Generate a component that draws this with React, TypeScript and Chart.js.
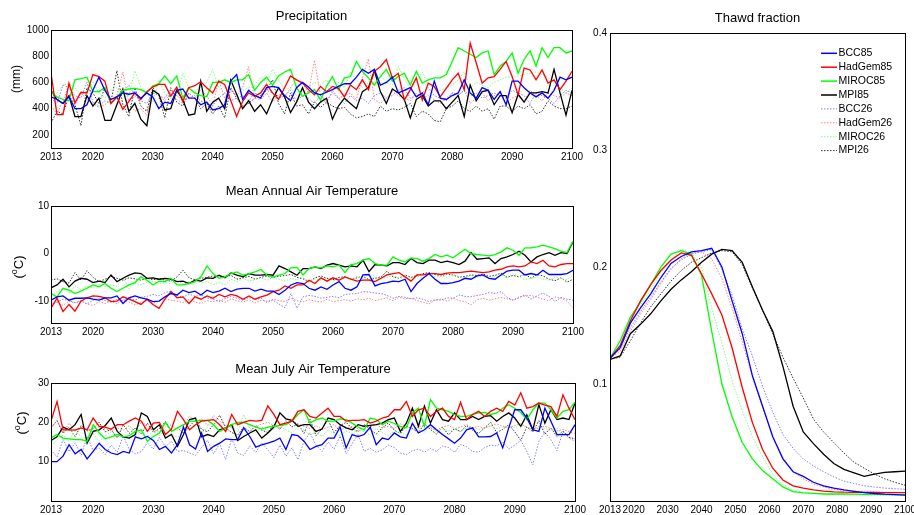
import React, { useEffect, useRef } from "react";
import { Chart, registerables } from "chart.js";

Chart.register(...registerables);

const FONT = "'Liberation Sans', Arial, Helvetica, sans-serif";
Chart.defaults.font.family = FONT;
Chart.defaults.font.size = 10;
Chart.defaults.color = "#000";

// ---------- categories / ticks ----------
const YEARS = Array.from({ length: 88 }, (_, i) => 2013 + i);
const THAW_YEARS = [2013, 2016, 2019, 2022, 2025, 2028, 2031, 2034, 2037, 2040, 2043, 2046, 2049, 2052, 2055, 2058, 2061, 2064, 2067, 2070, 2073, 2076, 2079, 2082, 2085, 2088, 2091, 2094, 2097, 2100];
const X_TICKS = [2013, 2020, 2030, 2040, 2050, 2060, 2070, 2080, 2090, 2100];
const PRECIP_TICKS = [200, 400, 600, 800, 1000];
const ANNUAL_TICKS = [-10, 0, 10];
const JULY_TICKS = [10, 20, 30];
const THAW_TICKS = [0.1, 0.2, 0.3, 0.4];
const SERIES_NAMES = ["BCC85", "HadGem85", "MIROC85", "MPI85", "BCC26", "HadGem26", "MIROC26", "MPI26"];

// ---------- Precipitation (mm) ----------
const precipBCC85 = [490, 470, 440, 490, 400, 400, 430, 540, 640, 540, 470, 490, 520, 510, 520, 480, 520, 490, 400, 450, 440, 540, 550, 480, 480, 430, 450, 390, 400, 430, 610, 660, 470, 540, 500, 480, 560, 570, 560, 500, 460, 560, 600, 565, 520, 505, 525, 545, 570, 590, 590, 640, 700, 670, 700, 580, 600, 640, 520, 540, 560, 490, 520, 430, 610, 480, 470, 500, 520, 620, 520, 480, 560, 540, 470, 530, 430, 610, 610, 560, 520, 490, 520, 480, 540, 640, 620, 640];
const precipHadGem85 = [672, 355, 355, 595, 445, 525, 520, 660, 645, 610, 440, 490, 395, 455, 520, 470, 530, 565, 585, 585, 495, 565, 455, 560, 575, 605, 560, 520, 610, 585, 465, 340, 455, 520, 495, 520, 585, 520, 470, 560, 650, 620, 595, 545, 505, 570, 530, 570, 555, 490, 580, 545, 620, 545, 685, 720, 775, 635, 670, 465, 545, 635, 465, 595, 570, 490, 555, 620, 670, 545, 900, 750, 595, 635, 645, 700, 760, 645, 505, 710, 695, 620, 695, 595, 620, 545, 610, 685];
const precipMIROC85 = [530, 490, 470, 460, 620, 630, 640, 530, 530, 560, 440, 490, 540, 550, 555, 545, 520, 575, 590, 650, 590, 650, 480, 560, 520, 500, 490, 600, 600, 620, 600, 620, 620, 660, 540, 600, 640, 580, 650, 680, 700, 560, 495, 520, 545, 465, 570, 645, 545, 635, 645, 760, 685, 635, 580, 645, 700, 610, 645, 670, 580, 685, 595, 620, 635, 635, 660, 760, 865, 840, 815, 790, 825, 840, 660, 725, 760, 825, 670, 775, 840, 725, 865, 790, 865, 865, 825, 840];
const precipMPI85 = [540, 470, 440, 500, 340, 340, 500, 420, 480, 310, 310, 430, 550, 380, 440, 320, 270, 540, 510, 390, 400, 540, 470, 350, 360, 610, 380, 450, 480, 400, 620, 510, 400, 460, 380, 430, 360, 470, 560, 490, 370, 450, 560, 450, 400, 450, 480, 320, 420, 480, 440, 400, 530, 560, 690, 530, 440, 550, 520, 470, 330, 470, 500, 420, 460, 460, 400, 450, 500, 340, 580, 460, 530, 540, 430, 500, 500, 370, 510, 450, 520, 520, 530, 520, 700, 520, 350, 540];
const precipBCC26 = [480, 440, 580, 560, 500, 480, 600, 450, 420, 460, 440, 480, 520, 580, 500, 460, 440, 520, 500, 480, 540, 500, 460, 480, 500, 460, 440, 420, 480, 520, 460, 480, 500, 460, 520, 500, 540, 520, 480, 500, 540, 460, 500, 480, 440, 500, 460, 520, 480, 440, 500, 460, 480, 440, 500, 520, 480, 500, 540, 560, 480, 500, 520, 560, 500, 480, 460, 520, 500, 540, 500, 520, 480, 500, 520, 500, 480, 540, 520, 500, 440, 520, 500, 480, 440, 500, 540, 520];
const precipHadGem26 = [420, 360, 460, 580, 430, 520, 470, 440, 410, 430, 470, 500, 680, 450, 380, 400, 350, 540, 500, 460, 520, 470, 440, 520, 480, 540, 500, 420, 620, 480, 540, 500, 560, 720, 480, 470, 520, 450, 510, 480, 560, 620, 600, 520, 770, 500, 440, 540, 480, 500, 520, 470, 640, 780, 470, 440, 480, 530, 500, 480, 460, 520, 480, 500, 470, 440, 480, 520, 500, 540, 440, 480, 520, 460, 500, 520, 440, 480, 500, 450, 540, 500, 460, 520, 500, 480, 520, 500];
const precipMIROC26 = [500, 520, 580, 590, 560, 500, 540, 600, 520, 480, 540, 560, 520, 500, 690, 560, 520, 450, 620, 520, 480, 500, 670, 560, 520, 580, 600, 700, 560, 520, 560, 600, 540, 560, 580, 640, 600, 700, 620, 540, 560, 500, 520, 560, 600, 580, 620, 540, 600, 560, 680, 620, 560, 600, 640, 660, 600, 580, 720, 620, 560, 600, 680, 580, 560, 540, 560, 580, 620, 680, 560, 600, 580, 560, 600, 620, 640, 640, 650, 660, 670, 680, 660, 640, 600, 560, 520, 560];
const precipMPI26 = [290, 380, 360, 500, 430, 270, 560, 520, 440, 560, 450, 690, 430, 340, 560, 420, 380, 560, 500, 330, 560, 450, 420, 520, 480, 400, 440, 360, 420, 330, 560, 480, 420, 440, 480, 500, 540, 620, 440, 360, 520, 420, 430, 360, 450, 410, 450, 420, 400, 410, 360, 330, 340, 360, 340, 420, 380, 400, 390, 410, 440, 340, 380, 360, 310, 300, 400, 420, 460, 400, 380, 420, 380, 400, 320, 420, 420, 380, 420, 400, 430, 360, 380, 460, 420, 400, 400, 420];

// ---------- Mean Annual Air Temperature (°C) ----------
const annualBCC85 = [-9.8, -9.1, -8.9, -9.8, -9.4, -9.4, -9.3, -9.6, -9.8, -9.3, -9.3, -8.9, -10.5, -9.3, -8.9, -9.3, -9.6, -10.1, -10.0, -9.1, -8.4, -8.7, -7.7, -8.2, -7.9, -8.7, -7.7, -8.2, -7.9, -7.3, -8.0, -7.5, -7.3, -7.3, -7.9, -7.5, -7.9, -7.9, -8.6, -7.7, -6.6, -6.1, -6.3, -7.3, -7.7, -7.0, -7.5, -6.6, -5.9, -7.3, -7.7, -7.0, -4.5, -4.4, -6.8, -6.3, -6.1, -5.8, -5.9, -5.4, -8.0, -6.3, -5.2, -4.2, -5.4, -6.3, -6.3, -6.1, -5.8, -5.2, -5.4, -4.7, -4.5, -5.2, -5.4, -4.5, -3.7, -3.5, -3.5, -4.5, -4.2, -4.5, -3.5, -4.4, -4.4, -4.4, -4.2, -3.5];
const annualHadGem85 = [-11.5, -9.4, -12.2, -10.7, -12.1, -10.0, -9.3, -8.9, -9.0, -9.3, -10.1, -10.0, -9.1, -9.6, -10.1, -10.7, -9.6, -10.7, -11.5, -9.6, -8.0, -9.3, -9.1, -10.5, -9.1, -9.6, -8.9, -9.4, -8.6, -9.1, -8.6, -8.9, -9.6, -8.9, -9.6, -9.1, -8.75, -8.0, -7.7, -6.8, -7.3, -6.6, -6.6, -5.6, -6.3, -5.1, -5.8, -5.1, -5.6, -4.9, -5.4, -5.8, -5.6, -5.6, -5.9, -5.2, -4.5, -4.2, -4.0, -4.9, -5.8, -4.5, -4.5, -4.2, -4.2, -4.4, -4.1, -4.0, -4.0, -3.85, -3.7, -3.85, -4.0, -3.85, -3.5, -3.3, -2.8, -2.6, -2.8, -2.6, -1.75, -2.1, -1.4, -2.6, -2.8, -2.3, -2.1, -2.1];
const annualMIROC85 = [-8.4, -9.1, -7.3, -7.7, -8.4, -7.9, -7.3, -6.6, -7.0, -6.3, -7.3, -8.0, -7.3, -6.6, -6.1, -4.9, -5.6, -6.6, -5.8, -5.9, -5.2, -6.6, -6.6, -6.3, -5.9, -4.9, -2.6, -4.2, -5.2, -4.9, -4.2, -3.85, -4.55, -4.2, -3.85, -3.35, -4.55, -4.9, -4.55, -4.2, -3.0, -2.9, -4.5, -3.15, -2.8, -3.0, -2.6, -2.8, -2.45, -4.0, -2.3, -2.1, -1.4, -1.05, -2.1, -2.45, -2.45, -0.7, -1.4, -1.75, -0.9, -1.05, -1.6, -1.05, -0.2, -0.7, -0.35, -0.9, 0.0, 0.9, 0.0, -0.2, -0.35, -0.5, -0.2, 0.35, 1.2, 0.7, -0.35, 1.2, 1.2, 1.4, 1.75, 1.4, 1.05, 0.5, 0.2, 2.6];
const annualMPI85 = [-7.2, -6.6, -5.4, -7.0, -5.8, -5.2, -5.4, -6.1, -5.8, -6.1, -4.5, -5.9, -5.2, -4.55, -4.06, -4.2, -5.2, -5.1, -5.4, -5.2, -5.4, -5.9, -5.8, -6.3, -5.6, -5.8, -5.1, -5.2, -4.55, -5.1, -4.06, -4.55, -4.9, -4.2, -4.55, -4.55, -4.4, -4.55, -2.6, -3.15, -3.85, -4.55, -3.15, -3.15, -2.8, -3.15, -2.45, -2.1, -2.45, -2.8, -2.6, -2.8, -1.4, -3.8, -2.3, -2.45, -2.6, -1.9, -1.9, -2.3, -1.05, -1.9, -2.1, -1.4, -1.4, -1.9, -1.6, -1.9, -2.3, -1.6, 0.2, -1.2, -1.05, -0.9, -2.1, -1.05, -0.7, -0.2, 0.5, -0.35, -1.75, -0.7, -0.2, 0.2, -0.35, 0.2, 0.0, 2.45];
const annualBCC26 = [-10.6, -10.2, -9.6, -9.9, -10.3, -10.0, -10.6, -9.8, -9.5, -9.9, -10.2, -9.6, -9.9, -9.4, -9.8, -9.2, -9.0, -8.6, -8.9, -8.2, -7.9, -8.8, -9.2, -8.5, -9.0, -8.7, -9.3, -9.6, -10.1, -9.5, -9.0, -9.4, -9.8, -9.2, -9.7, -9.4, -10.3, -9.8, -10.6, -11.4, -8.4, -11.5, -9.1, -8.8, -9.0, -9.4, -9.2, -9.0, -9.3, -8.6, -8.5, -8.4, -8.0, -8.1, -8.3, -8.4, -8.8, -9.4, -9.0, -9.2, -9.5, -9.3, -9.6, -10.1, -9.7, -9.8, -9.3, -9.4, -8.7, -9.0, -9.1, -8.8, -8.6, -8.2, -8.4, -8.0, -9.2, -9.8, -9.3, -8.7, -9.6, -8.9, -8.3, -9.0, -10.1, -9.2, -9.6, -9.8];
const annualHadGem26 = [-10.8, -10.2, -10.9, -10.0, -10.4, -9.8, -10.6, -10.9, -10.1, -10.5, -10.0, -10.6, -9.7, -10.2, -10.8, -10.3, -9.9, -10.4, -10.1, -9.5, -9.8, -10.0, -10.3, -9.6, -10.2, -10.5, -9.9, -10.1, -9.8, -10.3, -9.5, -9.9, -10.2, -9.7, -10.4, -9.8, -10.0, -9.6, -9.9, -10.1, -9.4, -9.9, -10.1, -9.7, -10.0, -10.2, -9.6, -10.1, -9.9, -9.7, -10.0, -9.5, -9.7, -9.4, -9.9, -9.6, -9.3, -9.9, -9.2, -9.5, -9.4, -9.9, -10.2, -10.6, -9.8, -9.6, -10.0, -9.4, -9.9, -10.1, -10.8, -9.7, -9.4, -9.8, -9.5, -9.2, -9.5, -9.8, -9.1, -8.9, -8.8, -9.2, -9.6, -9.9, -9.1, -9.4, -10.0, -11.4];
const annualMIROC26 = [-8.8, -8.0, -7.4, -8.3, -6.8, -7.6, -6.9, -7.2, -6.5, -7.0, -6.6, -6.9, -5.0, -7.4, -6.2, -6.6, -6.0, -5.8, -6.4, -6.1, -6.3, -5.7, -6.4, -6.0, -5.6, -6.2, -5.9, -6.5, -6.1, -6.6, -5.4, -5.9, -5.2, -5.8, -5.5, -5.1, -5.6, -5.0, -5.4, -5.8, -5.2, -5.5, -5.0, -5.9, -5.3, -5.6, -5.1, -5.7, -5.4, -5.0, -5.5, -4.8, -5.3, -5.6, -4.9, -5.4, -5.0, -4.6, -5.2, -4.8, -5.1, -4.7, -5.2, -4.5, -4.9, -4.6, -5.0, -4.4, -4.8, -5.1, -4.6, -5.0, -4.7, -5.3, -4.9, -4.4, -5.1, -4.2, -4.8, -5.5, -5.2, -4.9, -5.4, -5.6, -4.9, -5.3, -5.5, -4.6];
const annualMPI26 = [-5.6, -5.3, -5.9, -6.2, -4.0, -5.6, -3.6, -5.0, -5.9, -5.4, -4.8, -5.2, -5.6, -5.1, -5.3, -5.6, -5.2, -5.5, -5.3, -5.6, -5.8, -4.9, -3.5, -5.1, -5.5, -5.2, -5.0, -4.7, -4.9, -4.8, -4.6, -5.4, -5.1, -4.8, -5.4, -5.0, -4.7, -5.0, -4.8, -4.6, -4.4, -5.0, -5.3, -6.0, -5.1, -4.7, -5.2, -5.5, -5.0, -4.9, -5.4, -5.1, -4.8, -5.5, -5.2, -4.9, -3.7, -4.9, -5.2, -4.5, -5.0, -4.6, -4.2, -4.0, -4.4, -4.7, -4.3, -4.5, -5.0, -4.8, -4.5, -4.6, -4.3, -4.8, -4.6, -4.1, -5.0, -4.6, -4.9, -4.3, -5.2, -4.4, -4.7, -5.4, -5.7, -5.1, -6.0, -5.4];

// ---------- Mean July Air Temperature (°C) ----------
const julyBCC85 = [10.0, 10.0, 11.4, 14.3, 12.0, 13.1, 10.7, 12.6, 14.7, 13.1, 12.2, 11.8, 12.6, 12.2, 16.3, 15.8, 16.4, 15.4, 13.1, 13.9, 12.2, 14.3, 18.8, 14.3, 13.2, 17.3, 12.6, 13.9, 14.7, 15.8, 15.6, 15.6, 18.6, 16.4, 13.7, 14.3, 14.7, 15.2, 16.0, 13.1, 16.9, 16.6, 15.2, 13.1, 13.9, 14.3, 16.0, 16.0, 18.8, 13.5, 16.9, 16.4, 16.9, 18.8, 14.3, 16.0, 15.6, 17.3, 16.3, 16.0, 19.7, 17.3, 18.1, 19.4, 18.1, 16.9, 15.8, 14.7, 16.0, 18.1, 18.6, 16.3, 16.3, 16.4, 17.3, 13.5, 18.6, 23.2, 23.2, 21.1, 18.1, 17.7, 23.6, 20.3, 16.9, 16.9, 16.9, 19.4];
const julyHadGem85 = [20.3, 25.3, 18.1, 18.1, 18.0, 18.6, 18.1, 21.1, 19.0, 18.8, 18.3, 19.4, 19.4, 20.3, 21.1, 20.3, 17.7, 19.8, 20.0, 16.9, 18.3, 22.8, 20.7, 18.1, 19.4, 20.3, 20.5, 20.7, 19.4, 17.7, 22.0, 19.4, 20.0, 20.5, 20.3, 20.5, 24.2, 22.0, 19.4, 19.8, 20.3, 22.8, 23.2, 21.5, 21.1, 22.4, 23.6, 21.5, 21.5, 20.3, 20.5, 20.5, 20.7, 19.8, 20.3, 21.1, 21.5, 23.2, 23.2, 25.3, 21.5, 23.2, 23.6, 21.5, 22.8, 23.6, 21.5, 20.7, 25.1, 20.7, 22.0, 22.8, 21.5, 22.8, 23.6, 22.8, 25.3, 24.4, 27.5, 23.6, 24.0, 24.9, 24.4, 24.0, 21.5, 27.0, 23.6, 20.7];
const julyMIROC85 = [16.0, 16.9, 16.0, 15.8, 15.6, 15.6, 15.2, 19.4, 17.3, 15.8, 16.3, 16.9, 16.3, 16.6, 17.7, 18.1, 15.2, 16.4, 17.3, 20.0, 17.7, 18.6, 19.4, 20.3, 20.3, 20.5, 20.5, 19.4, 17.7, 18.6, 19.4, 20.0, 20.0, 19.4, 18.8, 18.3, 18.8, 19.0, 19.2, 19.4, 20.3, 22.0, 23.2, 19.8, 20.7, 21.1, 20.3, 20.3, 20.9, 20.7, 19.8, 18.8, 18.1, 21.1, 20.7, 19.4, 20.3, 19.7, 19.0, 18.6, 22.4, 23.6, 19.0, 25.8, 23.6, 23.2, 22.8, 22.0, 21.5, 21.5, 22.0, 22.4, 22.5, 22.0, 22.4, 23.6, 24.5, 23.6, 22.5, 20.7, 23.2, 24.9, 24.9, 23.2, 21.1, 22.8, 23.2, 25.1];
const julyMPI85 = [15.4, 16.3, 18.8, 18.1, 19.4, 22.0, 14.7, 17.7, 18.1, 19.2, 21.1, 17.7, 16.3, 16.0, 16.9, 22.4, 21.5, 18.1, 19.4, 16.0, 16.9, 13.9, 16.9, 20.7, 21.1, 16.3, 16.9, 16.4, 18.1, 18.6, 19.4, 15.4, 16.4, 17.3, 18.1, 16.0, 17.3, 18.8, 22.4, 20.9, 20.5, 19.0, 19.4, 19.4, 17.7, 18.3, 21.1, 20.7, 19.4, 18.6, 18.1, 19.4, 19.0, 19.2, 19.4, 19.8, 20.7, 21.1, 17.7, 19.8, 23.6, 19.0, 24.1, 19.8, 23.2, 20.7, 20.3, 22.4, 20.7, 20.7, 21.5, 20.7, 21.5, 21.7, 20.3, 21.5, 22.4, 21.1, 19.0, 21.9, 18.1, 24.5, 19.8, 23.2, 20.7, 21.1, 20.7, 24.9];
const julyBCC26 = [13.0, 11.2, 15.6, 12.5, 14.8, 11.6, 16.5, 12.8, 13.5, 11.8, 14.2, 12.4, 16.6, 13.0, 12.0, 12.6, 14.8, 13.2, 16.2, 13.8, 15.2, 12.6, 12.8, 12.2, 11.6, 13.6, 15.4, 12.0, 14.6, 10.6, 15.8, 12.2, 11.6, 14.0, 12.4, 14.8, 13.0, 11.0, 14.2, 11.4, 13.5, 10.5, 15.2, 17.3, 14.2, 12.6, 15.0, 13.2, 16.5, 12.0, 14.6, 17.0, 12.6, 13.4, 12.4, 13.0, 14.2, 13.6, 12.2, 11.8, 12.8, 13.2, 12.4, 13.4, 12.6, 14.0, 13.6, 12.4, 14.4, 13.8, 12.6, 12.4, 13.6, 14.2, 14.0, 15.0, 13.2, 14.2, 15.4, 12.6, 9.2, 15.2, 17.5, 15.6, 12.8, 17.6, 16.0, 15.2];
const julyHadGem26 = [18.5, 20.5, 17.4, 19.8, 17.8, 19.0, 18.2, 17.6, 18.8, 18.4, 17.8, 18.6, 18.0, 19.2, 17.4, 20.2, 19.0, 18.2, 17.6, 18.8, 19.4, 18.0, 19.0, 21.6, 20.0, 21.0, 19.2, 21.8, 20.4, 19.2, 18.6, 19.8, 20.2, 19.4, 18.8, 19.6, 20.0, 19.2, 18.6, 19.8, 20.4, 19.6, 19.0, 18.4, 19.2, 18.2, 18.8, 19.4, 18.0, 18.6, 19.0, 18.4, 19.2, 18.8, 19.4, 18.6, 19.0, 18.4, 19.6, 19.0, 18.4, 18.8, 19.4, 18.6, 18.0, 18.8, 19.2, 18.4, 18.8, 19.4, 18.6, 19.0, 18.4, 19.2, 19.6, 19.0, 18.6, 19.2, 19.6, 18.8, 18.2, 18.6, 19.0, 18.4, 17.8, 18.2, 17.6, 17.2];
const julyMIROC26 = [14.0, 15.6, 16.8, 15.2, 17.8, 16.4, 15.8, 17.2, 15.2, 16.6, 17.6, 16.2, 17.0, 18.4, 16.8, 17.6, 16.4, 17.8, 16.6, 18.2, 17.0, 16.2, 17.4, 20.8, 18.6, 17.2, 18.8, 20.4, 17.6, 18.2, 19.0, 17.6, 22.0, 18.4, 17.4, 18.8, 17.8, 18.4, 19.2, 18.0, 17.4, 18.8, 18.0, 16.8, 17.6, 16.4, 18.2, 17.0, 16.6, 17.8, 17.2, 18.0, 17.6, 16.8, 18.4, 17.4, 16.6, 17.8, 17.2, 16.8, 18.0, 18.6, 17.4, 18.8, 17.6, 18.4, 17.8, 18.2, 17.6, 18.6, 18.8, 18.2, 18.6, 19.0, 18.4, 18.8, 19.2, 18.6, 19.4, 18.8, 18.2, 19.0, 18.4, 17.8, 18.6, 16.4, 17.8, 18.2];
const julyMPI26 = [18.6, 20.4, 17.2, 18.8, 16.4, 19.2, 17.8, 18.4, 20.0, 17.6, 18.2, 16.0, 19.4, 17.2, 18.6, 17.0, 19.8, 17.4, 18.4, 20.2, 17.8, 18.6, 17.2, 19.0, 20.6, 18.2, 17.6, 19.4, 21.8, 18.6, 17.4, 16.8, 18.8, 17.6, 19.2, 18.0, 17.4, 19.6, 18.2, 20.4, 18.8, 19.6, 17.2, 20.8, 16.6, 18.4, 20.6, 17.4, 19.2, 20.0, 18.4, 17.6, 19.4, 18.2, 17.0, 18.6, 19.8, 18.0, 17.2, 19.0, 18.4, 17.4, 19.6, 18.2, 17.0, 18.8, 16.8, 18.4, 17.6, 19.2, 18.0, 17.2, 18.6, 20.0, 17.4, 18.2, 19.4, 17.6, 15.4, 18.8, 17.6, 20.4, 17.0, 18.6, 16.4, 17.8, 16.2, 15.8];

// ---------- Thawd fraction ----------
const thawBCC85 = [0.122, 0.131, 0.152, 0.165, 0.177, 0.191, 0.203, 0.209, 0.213, 0.214, 0.216, 0.200, 0.171, 0.143, 0.107, 0.081, 0.055, 0.036, 0.025, 0.021, 0.016, 0.013, 0.011, 0.0095, 0.0083, 0.0072, 0.0064, 0.0058, 0.0054, 0.005];
const thawHadGem85 = [0.122, 0.133, 0.154, 0.171, 0.185, 0.197, 0.206, 0.212, 0.210, 0.194, 0.177, 0.159, 0.131, 0.097, 0.067, 0.044, 0.028, 0.018, 0.013, 0.011, 0.0095, 0.0085, 0.0078, 0.0075, 0.0074, 0.0073, 0.0073, 0.0072, 0.0072, 0.0072];
const thawMIROC85 = [0.122, 0.137, 0.157, 0.170, 0.185, 0.200, 0.211, 0.214, 0.211, 0.193, 0.145, 0.100, 0.072, 0.050, 0.036, 0.026, 0.019, 0.012, 0.008, 0.007, 0.0065, 0.006, 0.006, 0.006, 0.0058, 0.0057, 0.0056, 0.0055, 0.0055, 0.0055];
const thawMPI85 = [0.121, 0.124, 0.143, 0.151, 0.160, 0.171, 0.181, 0.189, 0.196, 0.204, 0.211, 0.215, 0.214, 0.204, 0.183, 0.163, 0.145, 0.115, 0.081, 0.059, 0.049, 0.040, 0.032, 0.027, 0.024, 0.021, 0.023, 0.0245, 0.025, 0.0255];
const thawBCC26 = [0.122, 0.130, 0.148, 0.162, 0.174, 0.187, 0.199, 0.206, 0.211, 0.213, 0.215, 0.198, 0.176, 0.147, 0.124, 0.098, 0.076, 0.057, 0.045, 0.036, 0.030, 0.025, 0.0206, 0.017, 0.015, 0.013, 0.012, 0.011, 0.0105, 0.010];
const thawHadGem26 = [0.122, 0.128, 0.145, 0.160, 0.172, 0.186, 0.198, 0.207, 0.212, 0.213, 0.207, 0.190, 0.165, 0.136, 0.106, 0.080, 0.055, 0.037, 0.025, 0.019, 0.0145, 0.012, 0.0099, 0.009, 0.0085, 0.008, 0.0078, 0.0075, 0.0073, 0.0072];
const thawMIROC26 = [0.122, 0.132, 0.152, 0.167, 0.181, 0.195, 0.206, 0.215, 0.212, 0.200, 0.165, 0.135, 0.103, 0.077, 0.055, 0.038, 0.023, 0.014, 0.0095, 0.0075, 0.0065, 0.006, 0.0055, 0.0053, 0.0052, 0.0051, 0.005, 0.005, 0.005, 0.005];
const thawMPI26 = [0.121, 0.123, 0.137, 0.152, 0.166, 0.177, 0.188, 0.197, 0.204, 0.208, 0.212, 0.214, 0.213, 0.202, 0.182, 0.163, 0.143, 0.123, 0.105, 0.088, 0.070, 0.059, 0.050, 0.041, 0.033, 0.028, 0.023, 0.019, 0.016, 0.0135];

// ---------- styles ----------
const STYLES = [
  { color: "#0000ff", width: 1.3, dash: [] as number[] },
  { color: "#ff0000", width: 1.3, dash: [] as number[] },
  { color: "#00ff00", width: 1.3, dash: [] as number[] },
  { color: "#000000", width: 1.3, dash: [] as number[] },
  { color: "#8080ff", width: 1, dash: [1.5, 1.5] },
  { color: "#ff8080", width: 1, dash: [1.5, 1.5] },
  { color: "#80ff80", width: 1, dash: [1.5, 1.5] },
  { color: "#333333", width: 1, dash: [1.5, 1.5] },
];

const boxPlugin = {
  id: "box",
  afterDraw(chart: any) {
    const { ctx, chartArea: a } = chart;
    ctx.save();
    ctx.strokeStyle = "#000";
    ctx.lineWidth = 1;
    const l = Math.round(a.left) + 0.5, t = Math.round(a.top) + 0.5;
    const r = Math.round(a.right) + 0.5, b = Math.round(a.bottom) + 0.5;
    ctx.strokeRect(l, t, r - l, b - t);
    ctx.restore();
  },
};

const yTitlePlugin = {
  id: "yTitle",
  afterDraw(chart: any, _args: any, opts: any) {
    if (!opts || !opts.parts) return;
    const { ctx } = chart;
    const size = opts.size;
    const normal = `${size}px ${FONT}`;
    const small = `${Math.round(size * 0.7)}px ${FONT}`;
    ctx.save();
    ctx.translate(opts.x, opts.y);
    ctx.rotate(-Math.PI / 2);
    ctx.fillStyle = "#000";
    ctx.textBaseline = "middle";
    ctx.textAlign = "left";
    let total = 0;
    for (const p of opts.parts) {
      ctx.font = p.sup ? small : normal;
      total += ctx.measureText(p.t).width;
    }
    let cx = -total / 2;
    for (const p of opts.parts) {
      ctx.font = p.sup ? small : normal;
      ctx.fillText(p.t, cx, p.sup ? -size * 0.38 : 0);
      cx += ctx.measureText(p.t).width;
    }
    ctx.restore();
  },
};

const legendPlugin = {
  id: "boxLegend",
  afterDraw(chart: any, _args: any, opts: any) {
    if (!opts || !opts.show) return;
    const { ctx } = chart;
    ctx.save();
    ctx.font = `10.5px ${FONT}`;
    ctx.textBaseline = "middle";
    ctx.textAlign = "left";
    SERIES_NAMES.forEach((name, i) => {
      const st = STYLES[i];
      const y = opts.y0 + i * opts.dy;
      ctx.strokeStyle = st.color;
      ctx.lineWidth = i < 4 ? 1.5 : 1;
      ctx.setLineDash(st.dash);
      ctx.beginPath();
      ctx.moveTo(opts.x0, y);
      ctx.lineTo(opts.x1, y);
      ctx.stroke();
      ctx.setLineDash([]);
      ctx.fillStyle = "#000";
      ctx.fillText(name, opts.tx, y);
    });
    ctx.restore();
  },
};

type PanelSpec = {
  title: string;
  left: number; top: number; width: number; height: number;
  yWidth: number; padRight: number; titleTop: number; titleBottom: number;
  xs: number[]; series: number[][];
  yMin: number; yMax: number; yTicks: number[];
  yTitle?: { x: number; y: number; size: number; parts: { t: string; sup?: boolean }[] };
  legend?: { x0: number; x1: number; tx: number; y0: number; dy: number };
  yPad: number;
};

function Panel({ spec }: { spec: PanelSpec }) {
  const ref = useRef<HTMLCanvasElement>(null);
  useEffect(() => {
    const canvas = ref.current;
    if (!canvas) return;
    const datasets = spec.series.map((vals, i) => ({
      label: SERIES_NAMES[i],
      data: spec.xs.map((x, j) => ({ x, y: vals[j] })),
      borderColor: STYLES[i].color,
      backgroundColor: STYLES[i].color,
      borderWidth: STYLES[i].width,
      borderDash: STYLES[i].dash,
      pointRadius: 0,
      pointHoverRadius: 0,
      tension: 0,
      fill: false,
    }));
    const chart = new Chart(canvas, {
      type: "line",
      data: { datasets },
      options: {
        responsive: false,
        animation: false,
        events: [],
        layout: { padding: { left: 0, right: spec.padRight, top: 0, bottom: 0 } },
        plugins: {
          legend: { display: false },
          tooltip: { enabled: false },
          title: {
            display: true,
            text: spec.title,
            fullSize: false,
            color: "#000",
            font: { size: 13, weight: "normal", family: FONT, lineHeight: 1.2 },
            padding: { top: spec.titleTop, bottom: spec.titleBottom },
          },
          yTitle: spec.yTitle || {},
          boxLegend: spec.legend ? { show: true, ...spec.legend } : { show: false },
        } as any,
        scales: {
          x: {
            type: "linear",
            min: 2013,
            max: 2100,
            afterBuildTicks: (s: any) => { s.ticks = X_TICKS.map((v) => ({ value: v })); },
            afterFit: (s: any) => { s.height = 14; s.paddingLeft = 0; s.paddingRight = 0; },
            ticks: {
              autoSkip: false,
              maxRotation: 0,
              minRotation: 0,
              padding: 3,
              color: "#000",
              font: { size: 10, family: FONT },
              callback: (v: any) => String(v),
            },
            grid: { display: false, drawTicks: false },
            border: { display: false },
          },
          y: {
            type: "linear",
            min: spec.yMin,
            max: spec.yMax,
            afterBuildTicks: (s: any) => { s.ticks = spec.yTicks.map((v) => ({ value: v })); },
            afterFit: (s: any) => { s.width = spec.yWidth; s.paddingTop = 0; s.paddingBottom = 0; },
            ticks: {
              padding: spec.yPad,
              color: "#000",
              font: { size: 10, family: FONT },
              callback: (v: any) => String(v),
            },
            grid: { display: false, drawTicks: false },
            border: { display: false },
          },
        },
      } as any,
      plugins: [boxPlugin, yTitlePlugin, legendPlugin],
    });
    return () => chart.destroy();
  }, [spec]);
  return (
    <canvas
      ref={ref}
      width={spec.width}
      height={spec.height}
      style={{ position: "absolute", left: spec.left, top: spec.top, width: spec.width, height: spec.height }}
    />
  );
}

const PANELS: PanelSpec[] = [
  {
    title: "Precipitation",
    left: 0, top: 0, width: 590, height: 162,
    yWidth: 51, padRight: 18, titleTop: 8.7, titleBottom: 5.7,
    xs: YEARS,
    series: [precipBCC85, precipHadGem85, precipMIROC85, precipMPI85, precipBCC26, precipHadGem26, precipMIROC26, precipMPI26],
    yMin: 100, yMax: 1000, yTicks: PRECIP_TICKS, yPad: 2,
    yTitle: { x: 17, y: 79, size: 12, parts: [{ t: "(mm)" }] },
  },
  {
    title: "Mean Annual Air Temperature",
    left: 0, top: 172, width: 590, height: 165,
    yWidth: 51, padRight: 17, titleTop: 11.7, titleBottom: 6.7,
    xs: YEARS,
    series: [annualBCC85, annualHadGem85, annualMIROC85, annualMPI85, annualBCC26, annualHadGem26, annualMIROC26, annualMPI26],
    yMin: -14.6, yMax: 10, yTicks: ANNUAL_TICKS, yPad: 2,
    yTitle: { x: 19, y: 267 - 172, size: 13, parts: [{ t: "(" }, { t: "o", sup: true }, { t: "C)" }] },
  },
  {
    title: "Mean July Air Temperature",
    left: 0, top: 350, width: 590, height: 165,
    yWidth: 51, padRight: 15, titleTop: 11.2, titleBottom: 6.2,
    xs: YEARS,
    series: [julyBCC85, julyHadGem85, julyMIROC85, julyMPI85, julyBCC26, julyHadGem26, julyMIROC26, julyMPI26],
    yMin: 0, yMax: 30, yTicks: JULY_TICKS, yPad: 2,
    yTitle: { x: 22, y: 423 - 350, size: 13, parts: [{ t: "(" }, { t: "o", sup: true }, { t: "C)" }] },
  },
  {
    title: "Thawd fraction",
    left: 590, top: 0, width: 324, height: 515,
    yWidth: 20, padRight: 9, titleTop: 10.2, titleBottom: 7.2,
    xs: THAW_YEARS,
    series: [thawBCC85, thawHadGem85, thawMIROC85, thawMPI85, thawBCC26, thawHadGem26, thawMIROC26, thawMPI26],
    yMin: 0, yMax: 0.4, yTicks: THAW_TICKS, yPad: 3,
    legend: { x0: 231, x1: 247, tx: 248.5, y0: 53.3, dy: 13.9 },
  },
];

export default function App() {
  return (
    <div style={{ position: "absolute", left: 0, top: 0, width: 914, height: 515, overflow: "hidden", background: "#fff" }}>
      {PANELS.map((p) => (
        <Panel key={p.title} spec={p} />
      ))}
    </div>
  );
}
